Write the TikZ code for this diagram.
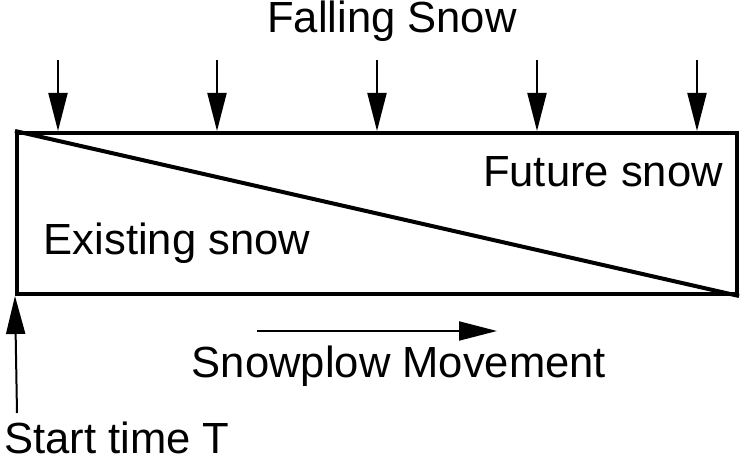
\documentclass[tikz,border=0pt]{standalone}
\usepackage{fontspec}
\setmainfont{Liberation Sans}
\usetikzlibrary{arrows.meta,positioning}

\begin{document}
\begin{tikzpicture}[
    field/.style={rectangle, draw, line width=0.08cm, minimum width=14.4cm, minimum height=3.22cm},
    label/.style={inner sep=0pt, anchor=base, font=\fontsize{24.8}{30}\selectfont},
    flake/.style={-{Triangle[length=0.76cm, width=0.38cm]}, line width=0.04cm},
]
    \useasboundingbox (0,0) rectangle (15.12,9.24);

    % Road section
    \node[field] (field) at (7.54, 4.97) {};
    \draw[line width=0.08cm] (field.north west) -- (field.south east);

    % Labels
    \node[label] (falling) at (7.84, 8.58) {Falling Snow};
    \node[label] (future) at (12.06, 5.50) {Future snow};
    \node[label] (existing) at (3.54, 4.14) {Existing snow};
    \node[label] (movement) at (7.98, 1.68) {Snowplow Movement};
    \node[label] (start) at (2.34, 0.16) {Start time T};

    % Falling snow arrows
    \foreach \x [count=\i] in {1.16, 4.34, 7.54, 10.74, 13.94} {
        \coordinate (s\i) at (\x, 8.04);
        \draw[flake] (s\i) -- (s\i |- field.north);
    }

    % Snowplow direction
    \coordinate (plowA) at (5.14, 2.62);
    \coordinate (plowB) at (9.94, 2.62);
    \draw[flake] (plowA) -- (plowB);

    % Start time
    \coordinate (t0) at (0.34, 0.98);
    \draw[flake] (t0) -- (field.south west);
\end{tikzpicture}
\end{document}
